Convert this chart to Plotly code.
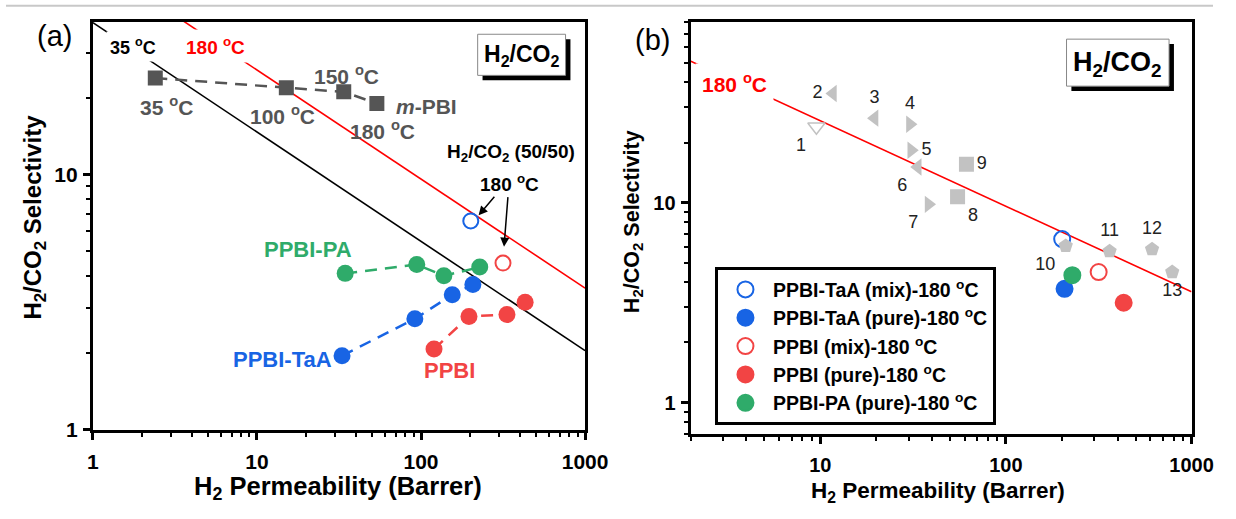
import numpy as np
import plotly.graph_objects as go

W, H = 1236, 519
FONT = "Liberation Sans, Arial, sans-serif"

# ---- data -------------------------------------------------------------
# m-PBI at 35, 100, 150 and 180 oC
mpbi_perm = [2.4, 15.1, 33.8, 53.8]
mpbi_sel = [23.9, 21.9, 21.1, 19.0]
mpbi_temp = ["35", "100", "150", "180"]

# pure-gas series (last point = 180 oC)
pa_perm = [34.5, 94.2, 137.8, 228]
pa_sel = [4.10, 4.44, 4.01, 4.34]
taa_perm = [33.0, 91.7, 155, 207]
taa_sel = [1.95, 2.72, 3.38, 3.71]
ppbi_perm = [120, 196, 334, 431]
ppbi_sel = [2.07, 2.78, 2.83, 3.16]

# H2/CO2 (50/50) mixed-gas at 180 oC
taa_mix_perm = [201]
taa_mix_sel = [6.58]
ppbi_mix_perm = [316]
ppbi_mix_sel = [4.50]

# upper bounds
bound_perm = [1, 1000]
bound_35 = [39.4, 2.04]
bound_180 = [68.8, 3.59]

# literature membranes tested at high temperature
lit_ids = ["1", "2", "3", "4", "5", "6", "7", "8", "9", "10", "11", "12", "13"]
lit_perm = [9.53, 11.7, 19.6, 30.4, 30.9, 33.5, 38.3, 54.9, 61.3, 210, 362, 613, 787]
lit_sel = [24.0, 35.2, 26.5, 24.7, 18.3, 15.1, 9.82, 10.7, 15.6, 6.08, 5.72, 5.85, 4.50]

# ---- styling ----------------------------------------------------------
BLUE = "#1864e4"
RED = "#f24444"
GREEN = "#2fab6a"
DGRAY = "#555555"
LGRAY = "#c2c2c2"
DASH = "12px,8px"


def px(x):
    return x / W


def py(y):
    return 1 - y / H


def log_axis(domain, rng, vals, minor_vals, size, anchor, standoff=0):
    return dict(
        type="log", domain=domain, range=rng, anchor=anchor,
        showline=True, linewidth=3, linecolor="black", mirror=True,
        ticks="outside", ticklen=7, tickwidth=2.5, tickcolor="black",
        tickvals=vals, ticktext=[str(v) for v in vals],
        ticklabelstandoff=standoff,
        tickfont=dict(family=FONT, size=size, color="black", weight="bold"),
        showgrid=False, zeroline=False,
        minor=dict(tickvals=minor_vals, ticks="outside", ticklen=4,
                   tickwidth=2, tickcolor="black", showgrid=False),
    )


def minor_decades(lo, hi):
    out = []
    for e in range(lo, hi):
        out += [m * 10 ** e for m in range(2, 10)]
    return out


fig = go.Figure()

# ---- panel (a) --------------------------------------------------------
fig.add_trace(go.Scatter(x=bound_perm, y=bound_35, mode="lines",
                         line=dict(color="black", width=1.6),
                         xaxis="x", yaxis="y", showlegend=False))
fig.add_trace(go.Scatter(x=bound_perm, y=bound_180, mode="lines",
                         line=dict(color="red", width=1.6),
                         xaxis="x", yaxis="y", showlegend=False))

fig.add_trace(go.Scatter(x=mpbi_perm, y=mpbi_sel, mode="lines+markers",
                         line=dict(color=DGRAY, width=2.5, dash=DASH),
                         marker=dict(symbol="square", size=15, color=DGRAY),
                         xaxis="x", yaxis="y", showlegend=False))
for xs, ys, col in [(pa_perm, pa_sel, GREEN), (taa_perm, taa_sel, BLUE),
                    (ppbi_perm, ppbi_sel, RED)]:
    fig.add_trace(go.Scatter(x=xs, y=ys, mode="lines+markers",
                             line=dict(color=col, width=2.5, dash=DASH),
                             marker=dict(symbol="circle", size=17, color=col),
                             xaxis="x", yaxis="y", showlegend=False))
for xs, ys, col in [(taa_mix_perm, taa_mix_sel, BLUE),
                    (ppbi_mix_perm, ppbi_mix_sel, RED)]:
    fig.add_trace(go.Scatter(x=xs, y=ys, mode="markers",
                             marker=dict(symbol="circle-open", size=15, color=col,
                                         line=dict(width=2, color=col)),
                             xaxis="x", yaxis="y", showlegend=False))

# ---- panel (b) --------------------------------------------------------
fig.add_trace(go.Scatter(x=bound_perm, y=bound_180, mode="lines",
                         line=dict(color="red", width=1.6),
                         xaxis="x2", yaxis="y2", showlegend=False))

legend_pts = [
    ("PPBI-TaA (mix)-180 <sup>o</sup>C", taa_mix_perm[-1], taa_mix_sel[-1], "circle-open", BLUE),
    ("PPBI-TaA (pure)-180 <sup>o</sup>C", taa_perm[-1], taa_sel[-1], "circle", BLUE),
    ("PPBI (mix)-180 <sup>o</sup>C", ppbi_mix_perm[-1], ppbi_mix_sel[-1], "circle-open", RED),
    ("PPBI (pure)-180 <sup>o</sup>C", ppbi_perm[-1], ppbi_sel[-1], "circle", RED),
    ("PPBI-PA (pure)-180 <sup>o</sup>C", pa_perm[-1], pa_sel[-1], "circle", GREEN),
]
for rank, (name, xv, yv, sym, col) in enumerate(legend_pts):
    fig.add_trace(go.Scatter(
        x=[xv], y=[yv], mode="markers", name=name, legendrank=rank + 1,
        marker=dict(symbol=sym, size=16, color=col, line=dict(width=2, color=col)),
        xaxis="x2", yaxis="y2"))

lit_symbols = ["triangle-down-open", "triangle-left", "triangle-left", "triangle-right",
               "triangle-right", "triangle-left", "triangle-right", "square", "square",
               "pentagon", "pentagon", "pentagon", "pentagon"]
lit_textpos = ["bottom left", "middle left", "top center", "top center", "middle right",
               "bottom left", "bottom left", "bottom right", "middle right",
               "bottom left", "top center", "top center", "bottom center"]
fig.add_trace(go.Scatter(
    x=lit_perm, y=lit_sel, mode="markers+text", text=lit_ids,
    textposition=lit_textpos,
    textfont=dict(family=FONT, size=18, color="#222222"),
    marker=dict(symbol=lit_symbols, size=15, color=LGRAY,
                line=dict(width=[1.5] + [0] * 12, color="#a0a0a0")),
    xaxis="x2", yaxis="y2", showlegend=False))

# ---- axes -------------------------------------------------------------
fig.update_layout(
    xaxis=log_axis([px(89), px(593)], [0, 3], [1, 10, 100, 1000],
                   minor_decades(0, 3), 21, "y", standoff=4),
    yaxis=log_axis([py(439), py(22)], [0, 1.6], [1, 10],
                   minor_decades(0, 2), 21, "x", standoff=1),
    xaxis2=log_axis([px(701), px(1214)], [np.log10(2), 3], [10, 100, 1000],
                    [2, 3, 4, 5, 6, 7, 8, 9] + minor_decades(1, 3), 20, "y2", standoff=4),
    yaxis2=log_axis([py(443), py(22.7)], [np.log10(0.7), np.log10(80)], [1, 10],
                    [0.7, 0.8, 0.9] + minor_decades(0, 1) + [20, 30, 40, 50, 60, 70, 80],
                    20, "x2", standoff=1),
)

# ---- text -------------------------------------------------------------
ann = []


def label(x, y, text, size, color="black", bold=True, **kw):
    a = dict(x=px(x), y=py(y), xref="paper", yref="paper", text=text,
             showarrow=False, xanchor="center", yanchor="middle",
             font=dict(family=FONT, size=size, color=color,
                       weight="bold" if bold else "normal"))
    a.update(kw)
    ann.append(a)


sel_title = "H<sub>2</sub>/CO<sub>2</sub> Selectivity"
perm_title = "H<sub>2</sub> Permeability (Barrer)"
label(29, 222, sel_title, 24, textangle=-90)
label(642, 226, sel_title, 21.5, textangle=-90)
label(340, 499, perm_title, 25.5)
label(954, 503, perm_title, 22.5)

label(50, 37, "(a)", 29, bold=False)
label(662, 41, "(b)", 29, bold=False)

label(130, 47, "35 <sup>o</sup>C", 18, bgcolor="white", borderpad=3)
label(215, 47, "180 <sup>o</sup>C", 19, color="red", bgcolor="white", borderpad=4)
label(746, 85, "180 <sup>o</sup>C", 21, color="red", bgcolor="white", borderpad=6)

# m-PBI temperature labels, offset from each marker
mpbi_shift = [(11, -28), (-4, -27), (3, 17), (6, -27)]
for p, s, t, (dx, dy) in zip(mpbi_perm, mpbi_sel, mpbi_temp, mpbi_shift):
    ann.append(dict(x=np.log10(p), y=np.log10(s), xref="x", yref="y",
                    text=f"{t} <sup>o</sup>C", showarrow=False,
                    xshift=dx, yshift=dy,
                    font=dict(family=FONT, size=21, color=DGRAY, weight="bold")))
ann.append(dict(x=np.log10(mpbi_perm[-1]), y=np.log10(mpbi_sel[-1]), xref="x", yref="y",
                text="<i>m</i>-PBI", showarrow=False, xshift=50, yshift=-3,
                font=dict(family=FONT, size=21, color=DGRAY, weight="bold")))

label(309, 255, "PPBI-PA", 22, color=GREEN)
label(283, 367, "PPBI-TaA", 22, color=BLUE)
label(454, 379, "PPBI", 22, color=RED)

label(517, 156, "H<sub>2</sub>/CO<sub>2</sub> (50/50)", 19)
label(516, 187, "180 <sup>o</sup>C", 19)

# arrows to the mixed-gas points
for (hx, hy, tx, ty) in [(484, 220, 501, 200), (510, 252, 514, 201)]:
    ann.append(dict(x=px(hx), y=py(hy), xref="paper", yref="paper", text="",
                    showarrow=True, ax=tx - hx, ay=ty - hy, arrowhead=2,
                    arrowsize=1.2, arrowwidth=1.5, arrowcolor="black"))

# boxed gas-pair labels with drop shadow
shapes = [dict(type="line", xref="paper", yref="paper", x0=0, x1=1,
               y0=py(6), y1=py(6), line=dict(color="#c8c8c8", width=2))]
for (x0, y0, x1, y1, size) in [(483, 35, 573, 77, 23), (1086, 40, 1191, 88, 27)]:
    shapes.append(dict(type="rect", xref="paper", yref="paper",
                       x0=px(x0 + 5), x1=px(x1 + 5), y0=py(y1 + 5), y1=py(y0 + 5),
                       fillcolor="black", line=dict(width=0)))
    shapes.append(dict(type="rect", xref="paper", yref="paper",
                       x0=px(x0), x1=px(x1), y0=py(y1), y1=py(y0),
                       fillcolor="white", line=dict(color="#888888", width=1)))
    label((x0 + x1) / 2, (y0 + y1) / 2 + 1, "H<sub>2</sub>/CO<sub>2</sub>", size)

fig.update_layout(
    width=W, height=H, margin=dict(l=0, r=0, t=0, b=0),
    paper_bgcolor="white", plot_bgcolor="white",
    font=dict(family=FONT, color="black"),
    annotations=ann, shapes=shapes,
    legend=dict(x=px(726), y=py(273), xanchor="left", yanchor="top",
                bgcolor="white", bordercolor="black", borderwidth=3,
                font=dict(family=FONT, size=19.5, color="black", weight="bold"),
                itemsizing="trace", itemwidth=45, tracegroupgap=0),
)

fig.write_html("out.html")
